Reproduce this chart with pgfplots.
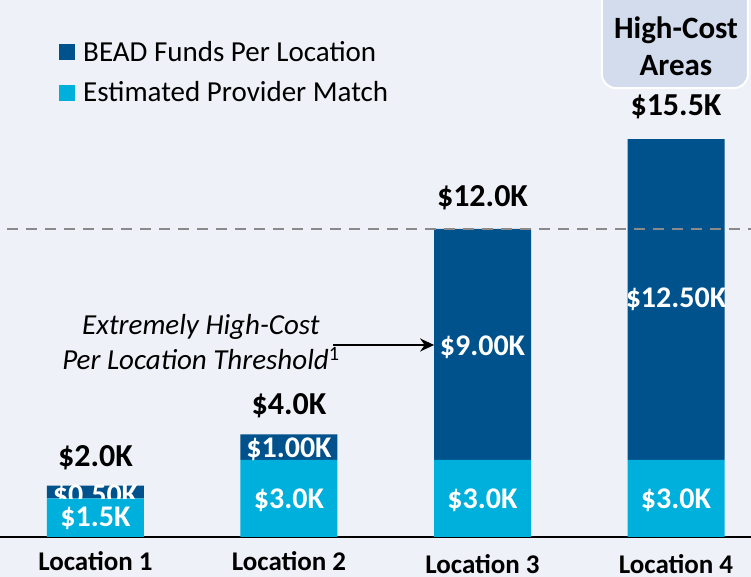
\documentclass[border=0pt]{standalone}
\usepackage{fontspec}
\setmainfont{Carlito}
\usepackage{pgfplots}
\pgfplotsset{compat=1.18}
\usetikzlibrary{arrows.meta,backgrounds}
\definecolor{bgc}{RGB}{238,241,247}
\definecolor{darkb}{RGB}{0,82,140}
\definecolor{lightb}{RGB}{0,176,220}
\definecolor{boxc}{RGB}{210,220,236}
\definecolor{dashc}{RGB}{138,138,138}
\newcommand{\fs}[2]{\fontsize{#1bp}{#2bp}\selectfont}
\begin{document}
\begin{tikzpicture}
\begin{axis}[
  scale only axis,
  width=751bp, height=537bp,
  xmin=-0.4935, xmax=3.3876, ymin=0, ymax=20.92,
  ybar stacked, bar width=97bp,
  axis y line=none, axis x line*=bottom,
  x axis line style={line width=1.6bp, black},
  xtick=\empty, ytick=\empty,
  clip=false,
  reverse legend,
  legend style={draw=none, fill=none, at={(axis description cs:0.0786,0.9237)}, anchor=north west,
    inner sep=0pt, row sep=19bp, column sep=8bp, font=\fs{29}{32}, cells={anchor=west}, nodes={inner sep=0pt}},
  legend image code/.code={\fill[#1] (0bp,-8bp) rectangle (16bp,8bp);},
]
\addplot[fill=lightb, draw=none] coordinates {(0,1.5) (1,3) (2,3) (3,3)};
\addlegendentry{Estimated Provider Match}
\addplot[fill=darkb, draw=none] coordinates {(0,0.5) (1,1) (2,9) (3,12.5)};
\addlegendentry{BEAD Funds Per Location}
\coordinate (BL) at (axis cs:-0.4935,-1.558);
\coordinate (TR) at (axis cs:3.3876,20.92);
\coordinate (dL) at (axis cs:-0.457,12);
\coordinate (dR) at (axis cs:3.3876,12);
\coordinate (t1) at (axis cs:0,3.08);
\coordinate (t2) at (axis cs:1,5.10);
\coordinate (t3) at (axis cs:2,13.2);
\coordinate (t4) at (axis cs:3,16.75);
\coordinate (s1a) at (axis cs:0,0.74);
\coordinate (s1b) at (axis cs:0,1.58);
\coordinate (c1A) at (axis cs:-0.26,1.5);
\coordinate (c1B) at (axis cs:0.26,2.1);
\coordinate (s2a) at (axis cs:1,1.44);
\coordinate (s2b) at (axis cs:1,3.43);
\coordinate (s3a) at (axis cs:2,1.44);
\coordinate (s3b) at (axis cs:2,7.40);
\coordinate (s4a) at (axis cs:3,1.44);
\coordinate (s4b) at (axis cs:3,9.27);
\coordinate (l1) at (axis cs:0,-0.95);
\coordinate (l2) at (axis cs:1,-0.95);
\coordinate (l3) at (axis cs:2,-1.07);
\coordinate (l4) at (axis cs:3,-1.07);
\coordinate (ann) at (axis cs:0.545,7.6);
\coordinate (arA) at (axis cs:1.227,7.48);
\coordinate (arB) at (axis cs:1.75,7.48);
\coordinate (boxA) at (axis cs:2.617,17.49);
\coordinate (boxB) at (axis cs:3.372,21.43);
\coordinate (boxT) at (axis cs:3.0,19.11);
\end{axis}
\pgfresetboundingbox
\useasboundingbox (BL) rectangle (TR);
\begin{scope}[on background layer]
\fill[bgc] (BL) rectangle (TR);
\end{scope}
\draw[dashc, line width=2.6bp, dash pattern=on 11bp off 8bp] (dL) -- (dR);
% totals
\node[font=\bfseries\fs{32}{35}] at (t1) {\$2.0K};
\node[font=\bfseries\fs{32}{35}] at (t2) {\$4.0K};
\node[font=\bfseries\fs{32}{35}] at (t3) {\$12.0K};
\node[font=\bfseries\fs{32}{35}] at (t4) {\$15.5K};
% segment labels
\node[font=\bfseries\fs{30}{33}, white, inner sep=0pt] at (s1a) {\$1.5K};
\begin{scope}
\clip (c1A) rectangle (c1B);
\node[font=\bfseries\fs{30}{33}, white, inner sep=0pt] at (s1b) {\$0.50K};
\end{scope}
\node[font=\bfseries\fs{30}{33}, white] at (s2a) {\$3.0K};
\node[font=\bfseries\fs{30}{33}, white] at (s2b) {\$1.00K};
\node[font=\bfseries\fs{30}{33}, white] at (s3a) {\$3.0K};
\node[font=\bfseries\fs{30}{33}, white] at (s3b) {\$9.00K};
\node[font=\bfseries\fs{30}{33}, white] at (s4a) {\$3.0K};
\node[font=\bfseries\fs{30}{33}, white] at (s4b) {\$12.50K};
% category labels
\node[font=\bfseries\fs{27}{30}, inner sep=0pt] at (l1) {Location 1};
\node[font=\bfseries\fs{27}{30}, inner sep=0pt] at (l2) {Location 2};
\node[font=\bfseries\fs{27}{30}, inner sep=0pt] at (l3) {Location 3};
\node[font=\bfseries\fs{27}{30}, inner sep=0pt] at (l4) {Location 4};
% annotation
\node[font=\itshape\fs{29}{35}, align=center] at (ann) {Extremely High-Cost\\Per Location Threshold\textsuperscript{\upshape 1}};
\draw[-{Stealth[length=14bp,width=13bp]}, line width=2bp] (arA) -- (arB);
\draw[fill=boxc, draw=white, line width=2bp, rounded corners=14bp] (boxA) rectangle (boxB);
\node[font=\bfseries\fs{31}{37}, align=center, inner sep=0pt] at (boxT) {High-Cost\\Areas};
\end{tikzpicture}
\end{document}
